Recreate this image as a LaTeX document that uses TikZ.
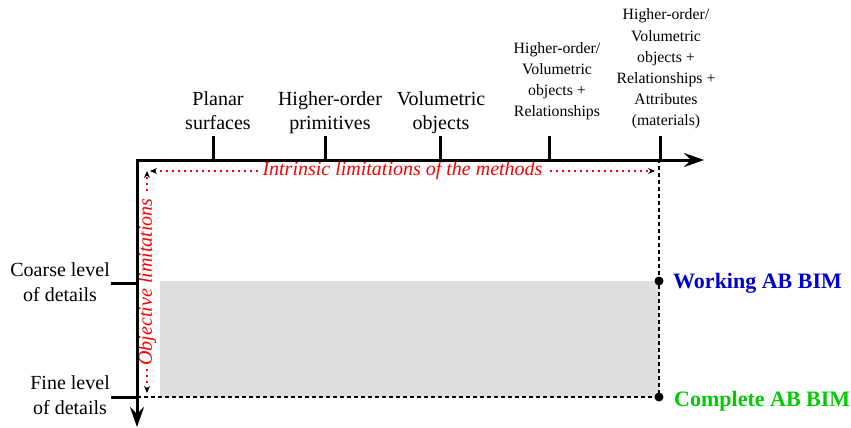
\documentclass[tikz,border=0pt]{standalone}
\usepackage{fontspec}
\setmainfont{Liberation Serif}
\usetikzlibrary{arrows.meta, positioning}

\definecolor{boxgray}{HTML}{DEDEDE}
\definecolor{bimblue}{HTML}{0000CC}
\definecolor{bimgreen}{HTML}{00CC00}

\tikzset{
  axis/.style={line width=3pt, line join=miter,
    {Stealth[length=20pt,width=14pt,inset=7pt]}-{Stealth[length=20pt,width=14pt,inset=7pt]}},
  tickmark/.style={line width=3pt},
  guide/.style={line width=1.1pt, dash pattern=on 4pt off 3pt},
  limit/.style={red, line width=1.2pt, dash pattern=on 1.5pt off 4.5pt,
    {Stealth[black,length=7pt,width=6pt,inset=2.5pt]}-{Stealth[black,length=7pt,width=6pt,inset=2.5pt]}},
  limlbl/.style={fill=white, text=red, inner sep=3pt, font=\fontsize{20}{24}\selectfont\itshape},
  toplbl/.style={align=center, inner sep=0pt, text depth=0pt, anchor=south, font=\fontsize{20}{24}\selectfont},
  smalllbl/.style={toplbl, font=\fontsize{15.8}{21.2}\selectfont},
  sidelbl/.style={align=center, inner sep=0pt, text depth=0pt, anchor=south east, font=\fontsize{20}{25}\selectfont},
  bimlbl/.style={anchor=base west, inner sep=0pt, font=\fontsize{22}{26}\selectfont\bfseries},
  dot/.style={circle, fill, inner sep=0pt, minimum size=9pt}
}

\begin{document}
\begin{tikzpicture}[x=1pt, y=-1pt]
	\useasboundingbox (0,0) rectangle (851,428);
	% grey band between the two levels
	\fill[boxgray] (160,281) rectangle (659,397);
	\coordinate (xend) at (704,160);
	\coordinate (origin) at (137,160);
	\coordinate (yend) at (137,427);
	\coordinate (fine) at (137,397);
	\coordinate (top) at (659,160);
	\node[dot] (working) at (659,281) {};
	\node[dot] (complete) at (659,397) {};
	\draw[guide] (fine) -- (complete.center) -- (working.center) -- (top);
	% limitations
	\coordinate (limh) at (150,171);
	\coordinate (limhend) at (655,171);
	\coordinate (limv) at (147,171);
	\coordinate (limvend) at (147,393);
	\draw[limit] (limh) -- node[limlbl] {Intrinsic limitations of the methods} (limhend);
	\draw[limit] (limvend) -- node[limlbl, rotate=90] {Objective limitations} (limv);
	% axes and ticks
	\draw[axis] (xend) -- (origin) -- (yend);
	\foreach \x in {213,325,440,549,660}
		\draw[tickmark] (\x,136) -- (\x,160);
	\draw[tickmark] (111,283) -- (137,283);
	\draw[tickmark] (111,397) -- (137,397);
	\node[toplbl] (planar) at (218,130) {Planar\\surfaces};
	\node[toplbl] (prim) at (330,130) {Higher-order\\primitives};
	\node[toplbl] (vol) at (441,130) {Volumetric\\objects};
	\node[smalllbl] (rel) at (557,117) {Higher-order/\\Volumetric\\objects +\\Relationships};
	\node[smalllbl] (attr) at (666,126) {Higher-order/\\Volumetric\\objects +\\Relationships +\\Attributes\\(materials)};
	\node[sidelbl] (coarse) at (110,302) {Coarse level\\of details};
	\node[sidelbl] (finelbl) at (110,415) {Fine level\\of details};
	\node[bimlbl, text=bimblue, right=14pt of working.center, anchor=base west, yshift=-7pt] (workinglbl) {Working AB BIM};
	\node[bimlbl, text=bimgreen, right=15pt of complete.center, anchor=base west, yshift=-9pt] (completelbl) {Complete AB BIM};
\end{tikzpicture}
\end{document}
